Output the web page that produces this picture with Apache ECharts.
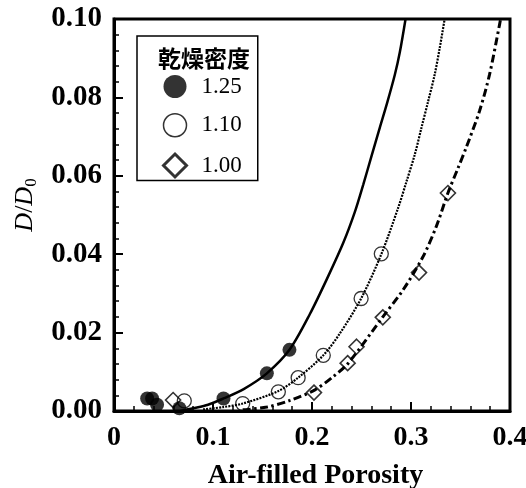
<!DOCTYPE html>
<html>
<head>
<meta charset="utf-8">
<style>
    html,body{margin:0;padding:0;background:#fff;}
    #porosityChart{width:526px;height:488px;}
</style>
<script src="https://cdn.jsdelivr.net/npm/echarts@6/dist/echarts.min.js"></script>
</head>
<body>
<div id="porosityChart"></div>
<script>
    // tick labels
    var xTickLabels = ['0', '0.1', '0.2', '0.3', '0.4'];
    var yTickLabels = ['0.00', '0.02', '0.04', '0.06', '0.08', '0.10'];

    // measured points [air-filled porosity, D/D0]
    var pts125 = [[0.0335,0.0032],[0.0385,0.0032],[0.0435,0.0016],[0.066,0.0007],[0.1106,0.0032],[0.1544,0.0096],[0.1772,0.0156]];
    var pts110 = [[0.071,0.0026],[0.130,0.0019],[0.166,0.0049],[0.186,0.0085],[0.2114,0.0142],[0.2496,0.0287],[0.270,0.0401]];
    var pts100 = [[0.0597,0.0028],[0.202,0.0047],[0.236,0.0122],[0.245,0.0164],[0.2715,0.0239],[0.3081,0.0353],[0.3373,0.0556]];

    // fitted curves
    var fit125 = [[0.067,0],[0.08,0.0007],[0.095,0.0016],[0.1106,0.0032],[0.131,0.0056],[0.1544,0.0096],[0.1772,0.0156],[0.198,0.0248],[0.2164,0.0344],[0.2316,0.0429],[0.2433,0.0508],[0.2517,0.0577],[0.2601,0.0650],[0.2685,0.0723],[0.2759,0.0786],[0.2836,0.0857],[0.2887,0.0915],[0.2945,0.1]];
    var fit110 = [[0.09,0.0004],[0.11,0.0010],[0.13,0.0019],[0.166,0.0051],[0.186,0.0085],[0.2114,0.0142],[0.2282,0.0198],[0.2496,0.0287],[0.270,0.0400],[0.287,0.0518],[0.2954,0.0585],[0.3038,0.0654],[0.3105,0.0722],[0.3172,0.0789],[0.3239,0.0858],[0.329,0.0926],[0.334,0.1]];
    var fit100 = [[0.13,0.0003],[0.1544,0.0010],[0.1778,0.0027],[0.203,0.0054],[0.2215,0.0088],[0.2366,0.0122],[0.2718,0.0241],[0.292,0.0309],[0.3122,0.0394],[0.3256,0.0471],[0.3373,0.0556],[0.3474,0.0619],[0.3559,0.0673],[0.3693,0.0766],[0.3793,0.0858],[0.3894,0.0985],[0.3905,0.1]];

    var serif = '"Liberation Serif", "Times New Roman", serif';
    var openStyle = {color:'rgba(0,0,0,0)', borderColor:'#000', borderWidth:1.3};
    var diamondStyle = {color:'rgba(0,0,0,0)', borderColor:'#000', borderWidth:1.6};

    var chart = echarts.init(document.getElementById('porosityChart'));
    var option = {
        backgroundColor:'#fff',
        animation:false,
        title:{
            text:'乾燥密度',
            left:153,
            top:42,
            textStyle:{fontFamily:'"Noto Sans CJK JP"', fontWeight:'bold', fontSize:23, color:'#000'}
        },
        legend:{
            orient:'vertical',
            left:137,
            top:36,
            padding:[39, 16, 2, 25],
            itemGap:15,
            itemWidth:23,
            itemHeight:23,
            selectedMode:false,
            borderColor:'#000',
            borderWidth:1.5,
            backgroundColor:'#fff',
            textStyle:{fontFamily:serif, fontSize:23, color:'#000', padding:[2,0,0,10]},
            data:[
                {name:'1.25', icon:'circle', itemStyle:{color:'#000', borderWidth:0}},
                {name:'1.10', icon:'circle', itemStyle:{color:'rgba(0,0,0,0)', borderColor:'#000', borderWidth:1.5}},
                {name:'1.00', icon:'diamond', itemStyle:{color:'rgba(0,0,0,0)', borderColor:'#000', borderWidth:3}}
            ]
        },
        grid:{
            left:114, right:16, top:19, bottom:77,
            outerBoundsMode:'none',
            show:true, borderColor:'#000', borderWidth:3
        },
        xAxis:{
            type:'value',
            min:0, max:0.4, interval:0.1,
            name:'Air-filled Porosity',
            nameLocation:'middle',
            nameGap:51,
            nameTextStyle:{fontFamily:serif, fontWeight:'bold', fontSize:28, color:'#000', padding:[0,0,0,7]},
            axisLine:{lineStyle:{color:'#000', width:3}},
            axisTick:{inside:true, length:9, lineStyle:{width:2, color:'#000'}},
            minorTick:{show:true, splitNumber:5, length:5, lineStyle:{width:1.5, color:'#000'}},
            splitLine:{show:false},
            axisLabel:{
                margin:13,
                fontFamily:serif, fontWeight:'bold', fontSize:28, color:'#000',
                formatter:function(v){ return xTickLabels[Math.round(v*10)]; }
            }
        },
        yAxis:{
            type:'value',
            min:0, max:0.1, interval:0.02,
            name:'{i|D}{n|/}{i|D}{s|0}',
            nameLocation:'middle',
            nameGap:73,
            nameTextStyle:{
                color:'#000',
                padding:[0,0,0,20],
                rich:{
                    i:{fontFamily:serif, fontStyle:'italic', fontSize:26, lineHeight:30, color:'#000'},
                    n:{fontFamily:serif, fontSize:26, lineHeight:30, color:'#000'},
                    s:{fontFamily:serif, fontSize:17, lineHeight:17, verticalAlign:'bottom', color:'#000'}
                }
            },
            axisLine:{lineStyle:{color:'#000', width:3}},
            axisTick:{inside:true, length:9, lineStyle:{width:2, color:'#000'}},
            minorTick:{show:true, splitNumber:5, length:5, lineStyle:{width:1.5, color:'#000'}},
            splitLine:{show:false},
            axisLabel:{
                margin:12,
                fontFamily:serif, fontWeight:'bold', fontSize:29, color:'#000',
                formatter:function(v){ return yTickLabels[Math.round(v*50)]; }
            }
        },
        series:[
            {
                name:'fit 1.25', type:'line', data:fit125, showSymbol:false, smooth:0.3, z:2,
                lineStyle:{color:'#000', width:2.5}
            },
            {
                name:'fit 1.10', type:'line', data:fit110, showSymbol:false, smooth:0.3, z:2,
                lineStyle:{color:'#000', width:2.2, type:[2,1.2]}
            },
            {
                name:'fit 1.00', type:'line', data:fit100, showSymbol:false, smooth:0.3, z:2,
                lineStyle:{color:'#000', width:3, type:[8,3.5,2.5,3.5]}
            },
            {
                name:'1.25', type:'scatter', data:pts125, symbol:'circle', symbolSize:14, z:3,
                itemStyle:{color:'#000'}
            },
            {
                name:'1.10', type:'scatter', data:pts110, symbol:'circle', symbolSize:14, z:3,
                itemStyle:openStyle
            },
            {
                name:'1.00', type:'scatter', data:pts100, symbol:'diamond', symbolSize:15, z:3,
                itemStyle:diamondStyle
            }
        ]
    };
    chart.setOption(option);
</script>
</body>
</html>
